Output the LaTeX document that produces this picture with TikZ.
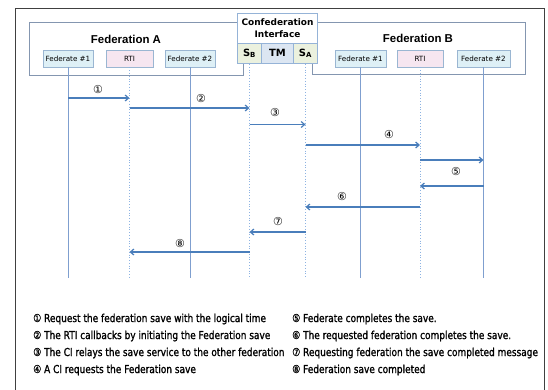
\documentclass[tikz,border=0pt]{standalone}
\usepackage{fontspec}
\setmainfont{DejaVu Sans}
\newfontfamily\legfont[FakeStretch=0.82,FakeBold=1.2]{DejaVu Sans}
\newfontfamily\grpfont{Liberation Sans}
\usetikzlibrary{arrows.meta}
\definecolor{arrowc}{HTML}{4A7EBB}
\definecolor{lifec}{HTML}{7F9FCF}
\definecolor{dotc}{HTML}{8DB3E2}
\definecolor{fedfill}{HTML}{DEF0F6}
\definecolor{rtifill}{HTML}{F6E6F0}
\definecolor{boxdraw}{HTML}{9AB6D2}
\definecolor{grpdraw}{HTML}{8496B0}
\definecolor{cellgreen}{HTML}{EBF1DE}
\definecolor{cellblue}{HTML}{DCE6F2}
\definecolor{cidraw}{HTML}{95B3D7}
\tikzset{
  fedbox/.style={draw=boxdraw, fill=fedfill, line width=0.8bp, minimum height=17bp, inner sep=0pt, font=\fontsize{7.2}{8}\selectfont},
  rtibox/.style={fedbox, fill=rtifill},
  grpbox/.style={draw=grpdraw, line width=1bp, anchor=north west, inner sep=0pt},
  grplabel/.style={font=\grpfont\bfseries\fontsize{11.5}{13}\selectfont},
  citop/.style={draw=cidraw, fill=white, line width=1bp, anchor=north west, minimum width=80bp, minimum height=29.5bp, inner sep=0pt, align=center, font=\bfseries\fontsize{9}{12}\selectfont},
  cell/.style={draw=cidraw, line width=1bp, anchor=north west, minimum height=20.5bp, inner sep=0pt, font=\bfseries\fontsize{10}{12}\selectfont},
  lifesolid/.style={draw=lifec, line width=1bp},
  lifedot/.style={draw=dotc, line width=0.8bp, dotted},
  msg/.style={draw=arrowc, line width=1.2bp, -{Straight Barb[length=3.5bp,width=6bp]}},
  num/.style={font=\fontsize{11}{12}\selectfont, inner sep=0pt},
  legend/.style={anchor=west, inner sep=0pt, font=\legfont\fontsize{11}{12}\selectfont},
}
\begin{document}
\begin{tikzpicture}[x=1bp,y=-1bp]
\fill[white] (0,0) rectangle (548,389);
\useasboundingbox (0,0) rectangle (548,389);
\clip (0,0) rectangle (548,389);
% outer frame
\node[draw=black!75, line width=1bp, anchor=north west, minimum width=529bp, minimum height=420bp, inner sep=0pt] (frame) at (15,8) {};
% federation groups
\node[grpbox, minimum width=214bp, minimum height=53bp] (fedA) at (29,22) {};
\node[grpbox, minimum width=213bp, minimum height=52bp] (fedB) at (312,22) {};
\node[grplabel] (fedAl) at (126,39) {Federation A};
\node[grplabel] (fedBl) at (418,38) {Federation B};
% confederation interface
\node[citop] (ci) at (237,13) {Confederation\\Interface};
\node[cell, fill=cellgreen, minimum width=24bp] (sb) at (237,42.5) {S\textsubscript{B}};
\node[cell, fill=cellblue, minimum width=32bp] (tm) at (261,42.5) {TM};
\node[cell, fill=cellgreen, minimum width=24bp] (sa) at (293,42.5) {S\textsubscript{A}};
% federates
\node[fedbox, minimum width=50bp] (a1) at (68,58.5) {Federate \#1};
\node[rtibox, minimum width=47bp] (ar) at (129.5,58.5) {RTI};
\node[fedbox, minimum width=50bp] (a2) at (190,58.5) {Federate \#2};
\node[fedbox, minimum width=51bp] (b1) at (360.5,58.5) {Federate \#1};
\node[rtibox, minimum width=46bp] (br) at (420,58.5) {RTI};
\node[fedbox, minimum width=53bp] (b2) at (483.5,58.5) {Federate \#2};
% lifelines
\coordinate (bot) at (0,278);
\draw[lifesolid] (a1) -- (a1 |- bot);
\draw[lifedot] (ar) -- (ar |- bot);
\draw[lifesolid] (a2) -- (a2 |- bot);
\draw[lifedot] (sb) -- (sb |- bot);
\draw[lifedot] (sa) -- (sa |- bot);
\draw[lifesolid] (b1) -- (b1 |- bot);
\draw[lifedot] (br) -- (br |- bot);
\draw[lifesolid] (b2) -- (b2 |- bot);
% messages
\draw[msg] (a1 |- 0,98) -- (ar |- 0,98);
\draw[msg] (ar |- 0,108) -- (sb |- 0,108);
\draw[msg] (sb |- 0,124.5) -- (sa |- 0,124.5);
\draw[msg] (sa |- 0,145) -- (br |- 0,145);
\draw[msg] (br |- 0,160) -- (b2 |- 0,160);
\draw[msg] (b2 |- 0,186) -- (br |- 0,186);
\draw[msg] (br |- 0,207) -- (sa |- 0,207);
\draw[msg] (sa |- 0,232) -- (sb |- 0,232);
\draw[msg] (sb |- 0,252) -- (ar |- 0,252);
% numbers
\node[num] (n1) at (98,90) {①};
\node[num] (n2) at (201,99) {②};
\node[num] (n3) at (275,113) {③};
\node[num] (n4) at (389,135) {④};
\node[num] (n5) at (456,172) {⑤};
\node[num] (n6) at (342,197) {⑥};
\node[num] (n7) at (278,221) {⑦};
\node[num] (n8) at (180,243) {⑧};
% legend
\node[legend] (l1) at (33,319) {① Request the federation save with the logical time};
\node[legend] (l2) at (33,336) {② The RTI callbacks by initiating the Federation save};
\node[legend] (l3) at (33,353) {③ The CI relays the save service to the other federation};
\node[legend] (l4) at (33,370) {④ A CI requests the Federation save};
\node[legend] (l5) at (292,319) {⑤ Federate completes the save.};
\node[legend] (l6) at (292,336) {⑥ The requested federation completes the save.};
\node[legend] (l7) at (292,353) {⑦ Requesting federation the save completed message};
\node[legend] (l8) at (292,370) {⑧ Federation save completed};
\end{tikzpicture}
\end{document}
